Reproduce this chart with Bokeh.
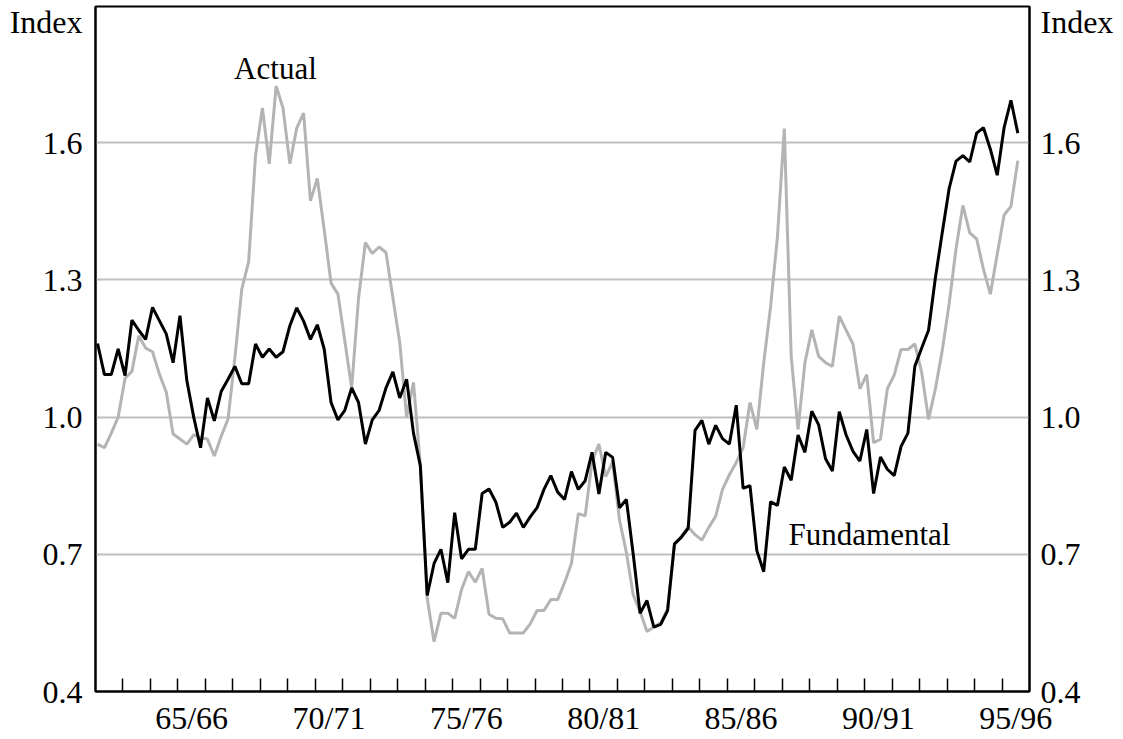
from bokeh.plotting import figure
from bokeh.models import FixedTicker, LinearAxis, Label, Range1d
from bokeh.embed import file_html
from bokeh.resources import INLINE

# Quarterly observations, fiscal years 62/63 .. 95/96
first_quarter = 1962.575
quarter_step = 0.25

fundamental = [
    1.161, 1.093, 1.093, 1.149, 1.091, 1.212, 1.190, 1.170, 1.240, 1.211,
    1.182, 1.119, 1.222, 1.080, 1.000, 0.933, 1.042, 0.992, 1.056, 1.083,
    1.111, 1.073, 1.073, 1.160, 1.131, 1.149, 1.131, 1.143, 1.200, 1.239,
    1.210, 1.170, 1.202, 1.149, 1.032, 0.994, 1.015, 1.064, 1.032, 0.941,
    0.994, 1.015, 1.064, 1.099, 1.042, 1.083, 0.965, 0.894, 0.610, 0.680,
    0.711, 0.638, 0.791, 0.690, 0.711, 0.711, 0.833, 0.843, 0.814, 0.759,
    0.770, 0.790, 0.759, 0.782, 0.802, 0.842, 0.872, 0.836, 0.820, 0.881,
    0.842, 0.861, 0.923, 0.832, 0.923, 0.912, 0.802, 0.820, 0.700, 0.571,
    0.599, 0.541, 0.547, 0.577, 0.723, 0.737, 0.757, 0.971, 0.993, 0.941,
    0.982, 0.953, 0.941, 1.026, 0.844, 0.850, 0.708, 0.662, 0.815, 0.807,
    0.891, 0.862, 0.961, 0.923, 1.013, 0.983, 0.909, 0.882, 1.012, 0.961,
    0.925, 0.904, 0.973, 0.833, 0.913, 0.886, 0.872, 0.936, 0.965, 1.111,
    1.151, 1.190, 1.305, 1.404, 1.500, 1.560, 1.572, 1.558, 1.621, 1.633,
    1.586, 1.529, 1.633, 1.693, 1.621,
]

actual = [
    0.941, 0.933, 0.965, 1.000, 1.085, 1.100, 1.178, 1.151, 1.143, 1.094,
    1.055, 0.963, 0.952, 0.941, 0.961, 0.955, 0.952, 0.915, 0.958, 0.996,
    1.130, 1.280, 1.340, 1.572, 1.676, 1.554, 1.724, 1.676, 1.554, 1.632,
    1.665, 1.473, 1.522, 1.410, 1.293, 1.269, 1.167, 1.064, 1.260, 1.382,
    1.358, 1.372, 1.360, 1.261, 1.163, 1.000, 1.076, 0.894, 0.604, 0.509,
    0.571, 0.571, 0.560, 0.623, 0.662, 0.639, 0.669, 0.569, 0.560, 0.559,
    0.528, 0.528, 0.528, 0.548, 0.577, 0.577, 0.601, 0.601, 0.638, 0.680,
    0.789, 0.784, 0.903, 0.941, 0.870, 0.902, 0.775, 0.704, 0.611, 0.575,
    0.531, 0.541, 0.550, 0.580, 0.720, 0.740, 0.760, 0.743, 0.731, 0.759,
    0.783, 0.842, 0.874, 0.901, 0.933, 1.032, 0.973, 1.119, 1.242, 1.395,
    1.631, 1.133, 0.973, 1.119, 1.191, 1.133, 1.119, 1.111, 1.221, 1.190,
    1.160, 1.062, 1.093, 0.944, 0.952, 1.062, 1.092, 1.148, 1.148, 1.160,
    1.098, 0.995, 1.062, 1.146, 1.248, 1.368, 1.463, 1.403, 1.390, 1.323,
    1.269, 1.356, 1.442, 1.461, 1.561,
]

x = [first_quarter + quarter_step * i for i in range(len(fundamental))]

year_label_pos = [1966, 1971, 1976, 1981, 1986, 1991, 1996]
year_labels = ["65/66", "70/71", "75/76", "80/81", "85/86", "90/91", "95/96"]
year_boundaries = [1963.5 + i for i in range(33)]

y_ticks = [0.4, 0.7, 1.0, 1.3, 1.6]
y_tick_labels = ["0.4", "0.7", "1.0", "1.3", "1.6"]
grid_values = [0.7, 1.0, 1.3, 1.6]
unit_label = "Index"
unit_label_level = 1.8635

FONT = "Liberation Serif"
GREY = "#b4b4b4"

p = figure(width=1120, height=738, output_backend="svg", toolbar_location=None,
           tools="", x_range=Range1d(1962.5, 1996.5), y_range=Range1d(0.4, 1.898),
           min_border_left=95, min_border_right=91, min_border_top=6,
           min_border_bottom=44)
p.background_fill_color = "white"
p.border_fill_color = "white"
p.outline_line_color = "black"
p.outline_line_width = 2

# x axis
xa = p.xaxis[0]
xa.ticker = FixedTicker(ticks=year_label_pos, minor_ticks=year_boundaries)
xa.major_label_overrides = {float(k): v for k, v in zip(year_label_pos, year_labels)}
xa.major_tick_line_color = None
xa.major_tick_in = 0
xa.major_tick_out = 0
xa.minor_tick_in = 13
xa.minor_tick_out = 0
xa.minor_tick_line_color = "black"
xa.minor_tick_line_width = 1.5
xa.axis_line_color = "black"
xa.axis_line_width = 2
xa.major_label_text_font = FONT
xa.major_label_text_font_size = "32px"
xa.major_label_text_color = "black"
xa.major_label_standoff = 8

p.xgrid.visible = False
p.ygrid.ticker = FixedTicker(ticks=grid_values)
p.ygrid.grid_line_color = "#c0c0c0"
p.ygrid.grid_line_width = 2

def style_y(ax):
    ax.ticker = FixedTicker(ticks=y_ticks + [unit_label_level])
    overrides = {float(k): v for k, v in zip(y_ticks, y_tick_labels)}
    overrides[float(unit_label_level)] = unit_label
    ax.major_label_overrides = overrides
    ax.major_tick_in = 0
    ax.major_tick_out = 0
    ax.major_tick_line_color = None
    ax.minor_tick_line_color = None
    ax.axis_line_color = "black"
    ax.axis_line_width = 2
    ax.major_label_text_font = FONT
    ax.major_label_text_font_size = "32px"
    ax.major_label_text_color = "black"
    ax.major_label_standoff = 13

style_y(p.yaxis[0])
ra = LinearAxis()
style_y(ra)
ra.major_label_standoff = 11
p.add_layout(ra, "right")

p.line(x, actual, line_color=GREY, line_width=3)
p.line(x, fundamental, line_color="black", line_width=3)

p.add_layout(Label(x=1969.05, y=1.763, text="Actual", text_font=FONT,
                   text_font_size="31px", text_align="center", text_baseline="middle",
                   text_color="black"))
p.add_layout(Label(x=1987.73, y=0.744, text="Fundamental", text_font=FONT,
                   text_font_size="31px", text_align="left", text_baseline="middle",
                   text_color="black"))

open("out.html", "w").write(file_html(p, INLINE))
